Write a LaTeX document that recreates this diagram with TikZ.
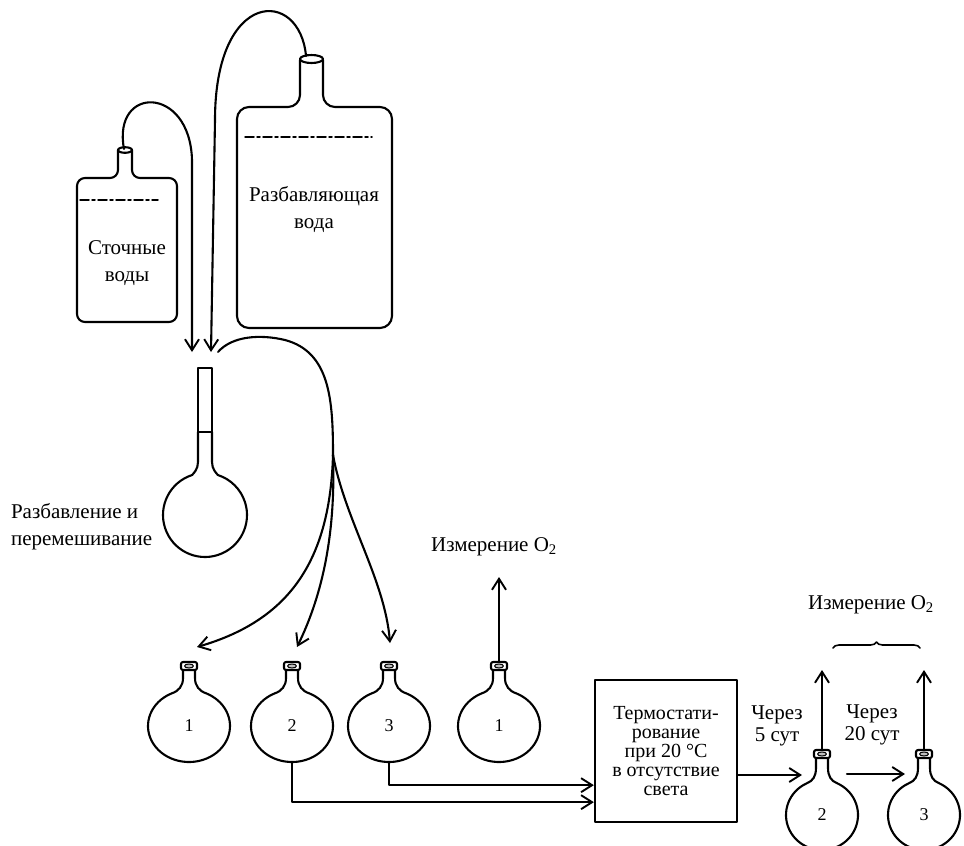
\documentclass[tikz,border=0pt]{standalone}
\usepackage{fontspec}
\setmainfont{Liberation Serif}
\usetikzlibrary{arrows.meta,calc,decorations.pathreplacing}
\begin{document}
\begin{tikzpicture}[x=1pt,y=-1pt,
  line width=2.1pt, line cap=round, line join=round,
  arr/.style={-{Straight Barb[length=11pt,width=14pt,line width=1.9pt]}},
  lbl/.style={font=\fontsize{21}{27}\selectfont, align=center, inner sep=0pt},
  num/.style={font=\fontsize{18}{20}\selectfont, inner sep=0pt},
  level/.style={line width=1.5pt, dash pattern=on 9pt off 3pt on 3pt off 3pt},
  pics/flask/.style n args={3}{code={
    \draw (-6,{-#3+6}) -- (-6,{-#2-12})
      .. controls (-6,{-#2-4}) and ({-0.25*#1},{-#2+1}) .. (245:#1 and #2)
      arc[start angle=245, end angle=-65, x radius=#1, y radius=#2]
      .. controls ({0.25*#1},{-#2+1}) and (6,{-#2-4}) .. (6,{-#2-12})
      -- (6,{-#3+6});
    \draw[rounded corners=2pt, fill=white] (-8,-#3) rectangle (8,{-#3+8});
    \draw[line width=1pt, fill=black!25] (0,{-#3+4}) ellipse[x radius=4.5, y radius=2];
    \coordinate (-top) at (0,-#3);
    \coordinate (-c) at (0,0);
    \coordinate (-bottom) at (0,#2);
  }}
]
\fill[white] (0,0) rectangle (964,846);
\useasboundingbox (0,0) rectangle (964,846);

% sewage water bottle
\draw[rounded corners=8pt] (118,150) -- (118,178) -- (77,178) -- (77,322)
  -- (177,322) -- (177,178) -- (132,178) -- (132,150);
\draw[fill=white] (125,150) ellipse[x radius=7, y radius=2.8];
\coordinate (s-mouth) at (124,149);
\draw[level] (80,200) -- (158,200);
\node[lbl] (sewage) at (127,263) {Сточные\\воды};

% dilution water bottle
\draw[rounded corners=12pt] (300,60) -- (300,107) -- (237,107) -- (237,328)
  -- (392,328) -- (392,107) -- (323,107) -- (323,60);
\draw[fill=white] (311.5,59) ellipse[x radius=11.5, y radius=4];
\coordinate (d-mouth) at (306,56);
\draw[level] (245,137) -- (372,137);
\node[lbl] (dilution) at (314,210) {Разбавляющая\\вода};

% siphon tubes into the mixing vessel
\coordinate (a1) at (192,352);
\coordinate (a2) at (211,352);
\draw[arr] (s-mouth) .. controls (112,85) and (190,85) .. (192,160) -- (a1);
\draw[arr] (d-mouth) .. controls (300,-12) and (215,-12) .. (215,120) -- (a2);

% mixing vessel
\draw (198,368) rectangle (212,432);
\draw (198,432) -- (198,462) .. controls (198,469) and (194,473) .. ($(205,515)+(252:42)$)
  arc[start angle=252, end angle=-72, radius=42]
  .. controls (216,473) and (212,469) .. (212,462) -- (212,432);
\coordinate (mix) at (205,515);
\node[lbl, anchor=west, align=left] (mixlbl) at (10,527) {Разбавление и\\перемешивание};

% sample flasks
\pic (f1) at (189,726) {flask={41}{36}{64}};
\pic (f2) at (292,726) {flask={41}{36}{64}};
\pic (f3) at (389,726) {flask={41}{36}{64}};
\pic (f4) at (499,726) {flask={41}{36}{64}};
\node[num] at (f1-c) {1};
\node[num] at (f2-c) {2};
\node[num] at (f3-c) {3};
\node[num] at (f4-c) {1};

% distribution tube
\coordinate (b0) at (218,352);
\coordinate (j) at (333,455);
\draw (b0) .. controls (232,336) and (260,334) .. (285,340)
  .. controls (330,352) and (333,400) .. (j);
\draw[arr] (j) .. controls (330,560) and (290,620) .. ($(f1-top)+(8,-15)$);
\draw[arr] (j) .. controls (336,540) and (320,600) .. ($(f2-top)+(5,-15)$);
\draw[arr] (j) .. controls (345,520) and (385,580) .. ($(f3-top)+(1,-19)$);

% immediate oxygen measurement
\draw[arr] (f4-top) -- ++(0,-85) coordinate (m1tip);
\node[lbl] (m1) at (494,547) {Измерение O\textsubscript{2}};

% incubation
\node[draw, line width=2.3pt, minimum width=142pt, minimum height=142pt, inner sep=0pt,
  font=\fontsize{20}{19}\selectfont, align=center] (box) at (666,751)
  {Термостати-\\рование\\при 20 °C\\в отсутствие\\света};
\draw[arr] (f2-bottom) |- ($(box.south west)+(0,-21)$);
\draw[arr] (f3-bottom) |- ($(box.south west)+(0,-38)$);

% flasks after incubation
\pic (f5) at (822,815) {flask={36}{35}{65}};
\pic (f6) at (924,815) {flask={36}{35}{65}};
\node[num] at (f5-c) {2};
\node[num] at (f6-c) {3};
\coordinate (f5in) at ($(f5-top)+(-20,25)$);
\draw[arr] (box.east |- f5in) -- (f5in);
\draw[arr] ($(f5-top)+(25,24)$) -- ($(f6-top)+(-19,24)$);
\node[lbl, font=\fontsize{21}{22}\selectfont] (t5) at (777,726) {Через\\5 сут};
\node[lbl, font=\fontsize{21}{22}\selectfont] (t20) at (872,725) {Через\\20 сут};

% later oxygen measurements
\draw[arr] (f5-top) -- ++(0,-80);
\draw[arr] (f6-top) -- ++(0,-80);
\draw[line width=1.6pt, decorate, decoration={brace, amplitude=6pt}] (833,648) -- (920,648);
\node[lbl] (m2) at (871,605) {Измерение O\textsubscript{2}};
\end{tikzpicture}
\end{document}
